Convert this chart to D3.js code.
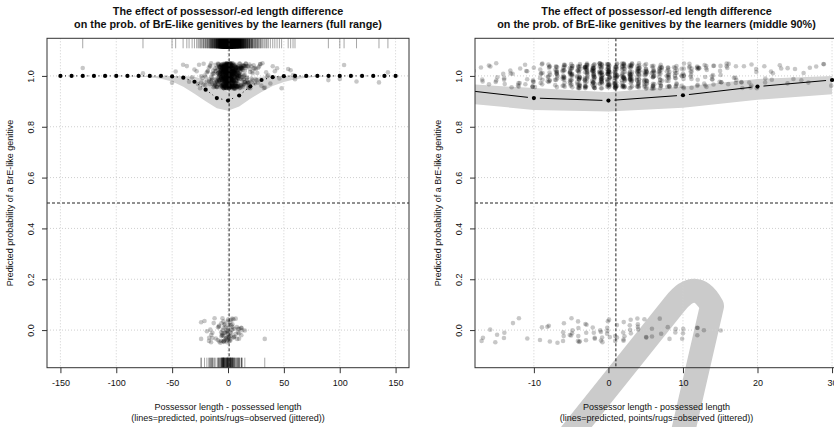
<!DOCTYPE html>
<html>
<head>
<meta charset="utf-8">
<script src="https://cdn.jsdelivr.net/npm/d3@7"></script>
<style>
  body { margin: 0; background: #fff; }
  text { font-family: "Liberation Sans", Arial, Helvetica, sans-serif; fill: #111; }
</style>
</head>
<body>
<svg id="chart" width="834" height="427"></svg>
<script>
// Observed tokens: [length difference, number of tokens]
const breTokens = [
  [-130,1],[-76,1],[-50,1],[-47,1],[-40,1],[-37,1],[-35,1],[-32,1],[-30,1],[-28,1],
  [-27,1],[-26,1],[-25,1],[-24,2],[-23,1],[-22,2],[-21,1],[-20,2],[-19,2],[-18,2],
  [-17,3],[-16,3],[-15,4],[-14,4],[-13,4],[-12,5],[-11,5],[-10,8],[-9,10],[-8,12],
  [-7,16],[-6,20],[-5,25],[-4,30],[-3,34],[-2,36],[-1,38],[0,40],[1,38],[2,36],
  [3,33],[4,30],[5,26],[6,22],[7,20],[8,17],[9,14],[10,12],[11,10],[12,9],
  [13,8],[14,7],[15,6],[16,5],[17,5],[18,4],[19,4],[20,3],[21,3],[22,3],
  [23,2],[24,2],[25,2],[26,2],[27,2],[28,1],[29,2],[30,1],[31,1],[32,1],
  [33,1],[34,1],[35,1],[36,1],[38,1],[40,1],[42,1],[44,1],[46,1],[48,1],
  [54,1],[56,1],[58,1],[60,1],[90,1],[100,1],[104,1],[115,1],[135,1],[143,1]
];
const otherTokens = [
  [-24,2],[-21,1],[-19,1],[-17,2],[-16,1],[-15,2],[-14,2],[-13,1],[-12,1],[-11,1],
  [-9,2],[-8,3],[-7,1],[-6,4],[-5,5],[-4,6],[-3,4],[-2,4],[-1,5],[0,6],
  [1,4],[2,5],[3,4],[4,4],[5,3],[6,2],[7,2],[8,2],[9,2],[10,3],
  [12,3],[13,1],[15,1],[33,1]
];

// Model predictions over the full range
const fullX     = [-150,-140,-130,-120,-110,-100,-90,-80,-70,-60,-50,-40,-30,-20,-10,0,10,20,30,40,50,60,70,80,90,100,110,120,130,140,150];
const fullFit   = [1,1,1,1,1,1,1,1,1,1,0.998,0.993,0.977,0.946,0.913,0.903,0.923,0.959,0.984,0.995,0.999,1,1,1,1,1,1,1,1,1,1];
const fullLower = [1,1,1,1,1,0.9995,0.999,0.998,0.995,0.989,0.978,0.957,0.93,0.9,0.873,0.863,0.88,0.91,0.937,0.96,0.976,0.987,0.993,0.997,0.999,1,1,1,1,1,1];
const fullUpper = [1,1,1,1,1,1,1,1,1,1,1,1,0.997,0.985,0.955,0.938,0.958,0.985,0.997,1,1,1,1,1,1,1,1,1,1,1,1];

// Model predictions over the middle 90% of the data
const midX     = [-20,-10,0,10,20,30];
const midFit   = [0.946,0.913,0.903,0.924,0.958,0.984];
const midLower = [0.895,0.866,0.860,0.875,0.906,0.928];
const midUpper = [0.970,0.952,0.936,0.958,0.988,1.0];

const fullTicks = [-150,-100,-50,0,50,100,150];
const midTicks  = [-10,0,10,20,30];
const yTicks    = [0,0.2,0.4,0.6,0.8,1.0];

const titleLine1 = "The effect of possessor/-ed length difference";
const xTitle1 = "Possessor length - possessed length";
const xTitle2 = "(lines=predicted, points/rugs=observed (jittered))";
const yTitle = "Predicted probability of a BrE-like genitive";
const refX = 1, refY = 0.5;

// Expand token counts into individual observations, jittered for display
const rng = d3.randomLcg(0.4217);
const observations = [];
for (const [d, n] of breTokens) for (let i = 0; i < n; i++) observations.push({x: d, y: 1});
for (const [d, n] of otherTokens) for (let i = 0; i < n; i++) observations.push({x: d, y: 0});
observations.forEach(o => { o.jx = o.x + (rng() * 0.4 - 0.2); o.jy = o.y + (rng() * 0.1 - 0.05); });

const svg = d3.select("#chart");
svg.append("rect").attr("width", 834).attr("height", 427).attr("fill", "#fff");

// light grey stamp across the lower right of the page
svg.append("path")
  .attr("d", "M562,445 L674,305 Q696,276 712,306 L680,445")
  .attr("fill", "none").attr("stroke", "#cbcbcb").attr("stroke-width", 24)
  .attr("stroke-linejoin", "round");

const plotTop = 38.3, plotBottom = 367.7;

const panels = [
  { left: 47, right: 409, domain: [-162, 162], ticks: fullTicks,
    title2: "on the prob. of BrE-like genitives by the learners (full range)",
    fx: fullX, fit: fullFit, lo: fullLower, hi: fullUpper, dash: "1,3,4,3", gap: 4.6, rug: true },
  { left: 475, right: 838, domain: [-17.9, 30.8], ticks: midTicks,
    title2: "on the prob. of BrE-like genitives by the learners (middle 90%)",
    fx: midX, fit: midFit, lo: midLower, hi: midUpper, dash: null, gap: 6, rug: false }
];

panels.forEach((p, k) => {
  const x = d3.scaleLinear().domain(p.domain).range([p.left, p.right]);
  const y = d3.scaleLinear().domain([-0.148, 1.148]).range([plotBottom, plotTop]);
  const g = svg.append("g");
  const clipId = "clip" + k;
  g.append("clipPath").attr("id", clipId).append("rect")
    .attr("x", p.left).attr("y", plotTop).attr("width", p.right - p.left).attr("height", plotBottom - plotTop);
  const inner = g.append("g").attr("clip-path", `url(#${clipId})`);

  // grid
  inner.selectAll(".gx").data(p.ticks).join("line")
    .attr("x1", d => x(d)).attr("x2", d => x(d)).attr("y1", plotTop).attr("y2", plotBottom)
    .attr("stroke", "#cfcfcf").attr("stroke-dasharray", "1,2");
  inner.selectAll(".gy").data(yTicks).join("line")
    .attr("x1", p.left).attr("x2", p.right).attr("y1", d => y(d)).attr("y2", d => y(d))
    .attr("stroke", "#cfcfcf").attr("stroke-dasharray", "1,2");

  // confidence band
  const band = p.fx.map((v, i) => ({x: v, lo: p.lo[i], hi: p.hi[i]}));
  inner.append("path").datum(band)
    .attr("d", d3.area().x(d => x(d.x)).y0(d => y(d.lo)).y1(d => y(d.hi)))
    .attr("fill", "#d3d3d3");

  // observed tokens
  inner.selectAll(".obs").data(observations).join("circle")
    .attr("cx", d => x(d.jx)).attr("cy", d => y(d.jy)).attr("r", 2.3)
    .attr("fill", "#000").attr("fill-opacity", 0.22);

  // rugs
  if (p.rug) {
    inner.selectAll(".rugTop").data(observations.filter(o => o.y === 1)).join("line")
      .attr("x1", d => x(d.jx)).attr("x2", d => x(d.jx)).attr("y1", plotTop).attr("y2", plotTop + 10)
      .attr("stroke", "#000").attr("stroke-opacity", 0.35).attr("stroke-width", 1);
    inner.selectAll(".rugBot").data(observations.filter(o => o.y === 0)).join("line")
      .attr("x1", d => x(d.jx)).attr("x2", d => x(d.jx)).attr("y1", plotBottom - 10).attr("y2", plotBottom)
      .attr("stroke", "#000").attr("stroke-opacity", 0.35).attr("stroke-width", 1);
  }

  // reference lines
  inner.append("line").attr("x1", x(refX)).attr("x2", x(refX)).attr("y1", plotTop).attr("y2", plotBottom)
    .attr("stroke", "#222").attr("stroke-dasharray", "3,2");
  inner.append("line").attr("x1", p.left).attr("x2", p.right).attr("y1", y(refY)).attr("y2", y(refY))
    .attr("stroke", "#222").attr("stroke-dasharray", "3,2");

  // predicted line with gaps around the points
  const pts = p.fx.map((v, i) => [x(v), y(p.fit[i])]);
  const segs = [];
  for (let i = 0; i < pts.length - 1; i++) {
    const [x0, y0] = pts[i], [x1, y1] = pts[i + 1];
    const len = Math.hypot(x1 - x0, y1 - y0);
    if (len > 2 * p.gap) {
      const ux = (x1 - x0) / len, uy = (y1 - y0) / len;
      segs.push([x0 + ux * p.gap, y0 + uy * p.gap, x1 - ux * p.gap, y1 - uy * p.gap]);
    }
  }
  inner.selectAll(".seg").data(segs).join("line")
    .attr("x1", d => d[0]).attr("y1", d => d[1]).attr("x2", d => d[2]).attr("y2", d => d[3])
    .attr("stroke", "#000").attr("stroke-width", 1)
    .attr("stroke-dasharray", p.dash);
  inner.selectAll(".pt").data(pts).join("circle")
    .attr("cx", d => d[0]).attr("cy", d => d[1]).attr("r", 2.1).attr("fill", "#000");

  // frame
  g.append("rect").attr("x", p.left).attr("y", plotTop)
    .attr("width", p.right - p.left).attr("height", plotBottom - plotTop)
    .attr("fill", "none").attr("stroke", "#333").attr("stroke-width", 1);

  // x axis
  const xa = g.append("g").attr("transform", `translate(0,${plotBottom})`)
    .call(d3.axisBottom(x).tickValues(p.ticks).tickSize(5.5).tickPadding(6).tickFormat(d3.format("d")));
  xa.select(".domain").remove();
  xa.selectAll("line").attr("stroke", "#333");
  xa.selectAll("text").attr("font-size", 9).attr("fill", "#111")
    .attr("font-family", "Liberation Sans, Arial, sans-serif").text(d => d < 0 ? "-" + Math.abs(d) : d);

  // y axis
  const ya = g.append("g").attr("transform", `translate(${p.left},0)`)
    .call(d3.axisLeft(y).tickValues(yTicks).tickSize(5).tickFormat(d3.format(".1f")));
  ya.select(".domain").remove();
  ya.selectAll("line").attr("stroke", "#333");
  ya.selectAll("text").attr("font-size", 9).attr("fill", "#111")
    .attr("font-family", "Liberation Sans, Arial, sans-serif")
    .attr("x", null).attr("dy", null)
    .attr("text-anchor", "middle")
    .attr("transform", "translate(-13,0) rotate(-90)");

  // titles
  const cx = (p.left + p.right) / 2;
  g.append("text").attr("x", cx).attr("y", 15).attr("text-anchor", "middle")
    .attr("font-size", 10.8).attr("font-weight", "bold").text(titleLine1);
  g.append("text").attr("x", cx).attr("y", 27.5).attr("text-anchor", "middle")
    .attr("font-size", 10.8).attr("font-weight", "bold").text(p.title2);
  g.append("text").attr("x", cx).attr("y", 409.5).attr("text-anchor", "middle")
    .attr("font-size", 9).text(xTitle1);
  g.append("text").attr("x", cx).attr("y", 420.5).attr("text-anchor", "middle")
    .attr("font-size", 9).text(xTitle2);
  g.append("text").attr("transform", `translate(${p.left - 34},${(plotTop + plotBottom) / 2}) rotate(-90)`)
    .attr("text-anchor", "middle").attr("font-size", 9).text(yTitle);
});
</script>
</body>
</html>
